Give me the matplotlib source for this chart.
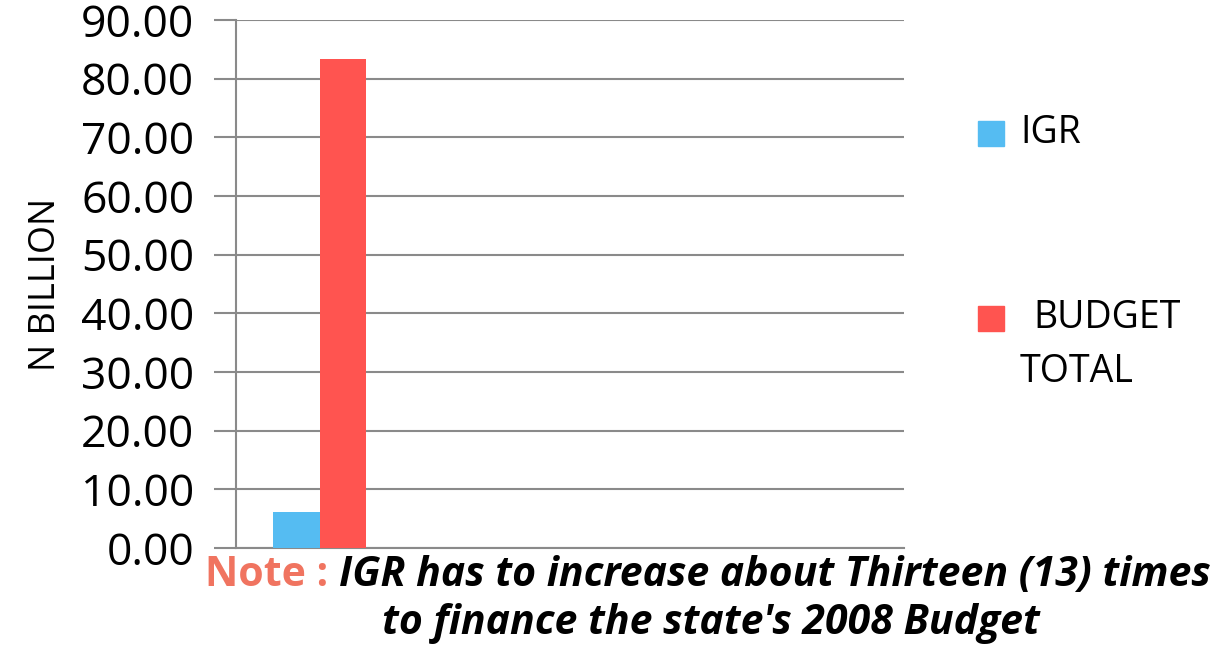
import matplotlib
matplotlib.use("Agg")
import matplotlib.pyplot as plt
from matplotlib.patches import Rectangle

# data
categories = ["2008", "", "", ""]
series_names = ["IGR", "BUDGET\nTOTAL"]
igr = [6.1, 0, 0, 0]
budget = [83.3, 0, 0, 0]
y_ticks = [0, 10, 20, 30, 40, 50, 60, 70, 80, 90]

blue = "#55BCF2"
red = "#FF5450"
grid_c = "#8a8a8a"

plt.rcParams["font.family"] = ["Open Sans", "DejaVu Sans"]

fig = plt.figure(figsize=(12.26, 6.56), dpi=100)
ax = fig.add_axes([0.1925, 0.1646, 0.545, 0.805])

x = range(len(categories))
w = 0.28
ax.bar([i - w / 2 for i in x], igr, width=w, color=blue, zorder=3)
ax.bar([i + w / 2 for i in x], budget, width=w, color=red, zorder=3)

ax.set_xlim(-0.5, len(categories) - 0.5)
ax.set_ylim(0, 90)
ax.set_yticks(y_ticks)
ax.set_yticklabels([f"{v:.2f}" for v in y_ticks], fontsize=32)
ax.set_xticks([])
ax.yaxis.grid(True, color=grid_c, linewidth=1.5, zorder=0)
ax.tick_params(axis="y", length=16, width=1.5, color=grid_c, pad=14)
for s in ["top", "right"]:
    ax.spines[s].set_visible(False)
ax.spines["left"].set_color(grid_c)
ax.spines["left"].set_linewidth(1.5)
ax.spines["bottom"].set_color(grid_c)
ax.spines["bottom"].set_linewidth(1.5)
ax.set_ylabel("N BILLION", fontsize=26, labelpad=12)

# legend drawn by hand
leg_y = [0.797, 0.515]
for name, col, yy in zip(series_names, [blue, red], leg_y):
    fig.patches.append(Rectangle((0.798, yy - 0.019), 0.021, 0.038,
                                 transform=fig.transFigure, color=col))
    lines = name.split("\n")
    fig.text(0.832 if len(lines) == 1 else 0.843, yy, lines[0], fontsize=27,
             va="center", ha="left")
    if len(lines) > 1:
        fig.text(0.832, yy - 0.082, lines[1], fontsize=27, va="center", ha="left")

# note
fig.canvas.draw()
r = fig.canvas.get_renderer()
t1 = fig.text(0.167, 0.123, "Note : ", fontsize=29.5, fontweight="bold",
              color="#F07460", va="center", ha="left")
bb = t1.get_window_extent(renderer=r)
x2 = bb.x1 / fig.bbox.width
fig.text(x2, 0.123, "IGR has to increase about Thirteen (13) times", fontsize=29.5,
         fontweight="bold", style="italic", va="center", ha="left")
fig.text(0.58, 0.05, "to finance the state's 2008 Budget", fontsize=29.5,
         fontweight="bold", style="italic", va="center", ha="center")

fig.savefig("out.png", dpi=100)
